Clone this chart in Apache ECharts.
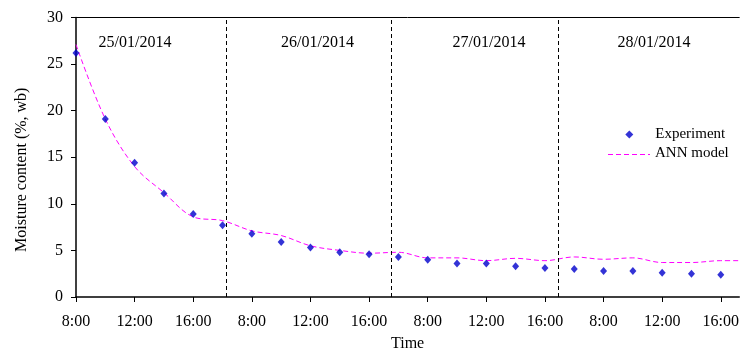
<!DOCTYPE html>
<html>
<head>
<meta charset="utf-8">
<script src="https://cdn.jsdelivr.net/npm/echarts@6/dist/echarts.min.js"></script>
<style>html,body{margin:0;padding:0;background:#fff}#c{width:742px;height:357px}</style>
</head>
<body>
<div id="c"></div>
<script>
// Slot index: one slot = 2 hours; each day holds 8:00..18:00 (6 slots)
var tickLabels = ['8:00','12:00','16:00','8:00','12:00','16:00','8:00','12:00','16:00','8:00','12:00','16:00'];
var tickSlots = [0, 2, 4, 6, 8, 10, 12, 14, 16, 18, 20, 22];
var dates = ['25/01/2014','26/01/2014','27/01/2014','28/01/2014'];
var dayBoundaries = [5.14, 10.75, 16.45];
var experiment = [26.2, 19.1, 14.4, 11.1, 8.9, 7.7, 6.8, 5.9, 5.3, 4.8, 4.6, 4.3, 4.0, 3.6, 3.6, 3.3, 3.1, 3.0, 2.8, 2.8, 2.6, 2.5, 2.4];
var annModel = [27.1, 19.1, 14.0, 11.2, 8.6, 8.2, 7.1, 6.6, 5.5, 5.0, 4.7, 4.8, 4.2, 4.2, 3.9, 4.15, 3.9, 4.3, 4.05, 4.2, 3.7, 3.7, 3.9, 3.9];

var FONT = "'Liberation Serif', 'Times New Roman', serif";
var ANN_COLOR = '#ff00ff';
var EXP_COLOR = '#0000cc';
var chart = echarts.init(document.getElementById('c'), null, {renderer: 'canvas'});

var X_MAX = 22.63;
var datePos = [[135, 43], [317.5, 43], [489, 43], [654, 43]];

var graphics = dates.map(function (d, i) {
  return {type: 'text', x: datePos[i][0], y: datePos[i][1], z: 10,
    style: {text: d, font: '16px ' + FONT, fill: '#000', textAlign: 'center', textVerticalAlign: 'middle'}};
});
// legend swatch for the dashed ANN line
graphics.push({type: 'line', z: 10, shape: {x1: 608, y1: 154.5, x2: 650, y2: 154.5},
  style: {stroke: ANN_COLOR, lineWidth: 1, lineDash: [5, 3]}});

chart.setOption({
  animation: false,
  backgroundColor: '#fff',
  textStyle: {fontFamily: FONT, color: '#000'},
  grid: {left: 76, right: 0, top: 17.5, bottom: 56.5},
  xAxis: [{
    type: 'value', min: 0, max: X_MAX,
    name: 'Time', nameLocation: 'middle', nameGap: 39,
    nameTextStyle: {fontFamily: FONT, fontSize: 16, color: '#000'},
    axisLine: {show: true, lineStyle: {color: '#000', width: 1.5}},
    axisTick: {show: true, length: 5, customValues: tickSlots, lineStyle: {color: '#000', width: 1}},
    axisLabel: {fontFamily: FONT, fontSize: 16, color: '#000', margin: 17, customValues: tickSlots,
      formatter: function (v) { var k = tickSlots.indexOf(Math.round(v)); return k >= 0 ? tickLabels[k] : ''; }},
    splitLine: {show: false}
  }, {
    type: 'value', min: 0, max: X_MAX, position: 'top',
    axisLine: {show: true, lineStyle: {color: '#000', width: 1}},
    axisTick: {show: false}, axisLabel: {show: false}, splitLine: {show: false}
  }],
  yAxis: {
    type: 'value', min: 0, max: 30, interval: 5,
    name: 'Moisture content (%, wb)', nameLocation: 'middle', nameGap: 46, nameRotate: 90,
    nameTextStyle: {fontFamily: FONT, fontSize: 16, color: '#000', padding: [0, 25, 0, 0]},
    axisLine: {show: true, lineStyle: {color: '#000', width: 1.5}},
    axisTick: {show: true, length: 5, lineStyle: {color: '#000', width: 1}},
    axisLabel: {fontFamily: FONT, fontSize: 16, color: '#000', margin: 13},
    splitLine: {show: false}
  },
  legend: [
    {data: ['Experiment'], left: 625.3, top: 127, padding: 0, itemWidth: 8, itemHeight: 8, icon: 'diamond',
     textStyle: {fontFamily: FONT, fontSize: 15, color: '#000', padding: [0, 0, 0, 17]}},
    {data: ['ANN model'], left: 608, top: 146, padding: 0, itemWidth: 42, itemHeight: 14, icon: 'rect',
     itemStyle: {opacity: 0}, lineStyle: {opacity: 0},
     textStyle: {fontFamily: FONT, fontSize: 15, color: '#000'}}
  ],
  graphic: graphics,
  series: [
    {
      name: 'ANN model', type: 'line', smooth: 0.35, showSymbol: false, symbol: 'none',
      data: annModel.map(function (v, i) { return [i, v]; }),
      lineStyle: {color: ANN_COLOR, width: 1, type: [5, 3]},
      itemStyle: {color: ANN_COLOR},
      z: 2,
      markLine: {
        silent: true, symbol: ['none', 'none'], label: {show: false},
        lineStyle: {color: '#000', width: 1, type: [4, 3]},
        data: dayBoundaries.map(function (b) { return {xAxis: b}; })
      }
    },
    {
      name: 'Experiment', type: 'scatter', symbol: 'diamond', symbolSize: [7, 8],
      data: experiment.map(function (v, i) { return [i, v]; }),
      itemStyle: {color: EXP_COLOR},
      z: 3
    }
  ]
});
</script>
</body>
</html>
